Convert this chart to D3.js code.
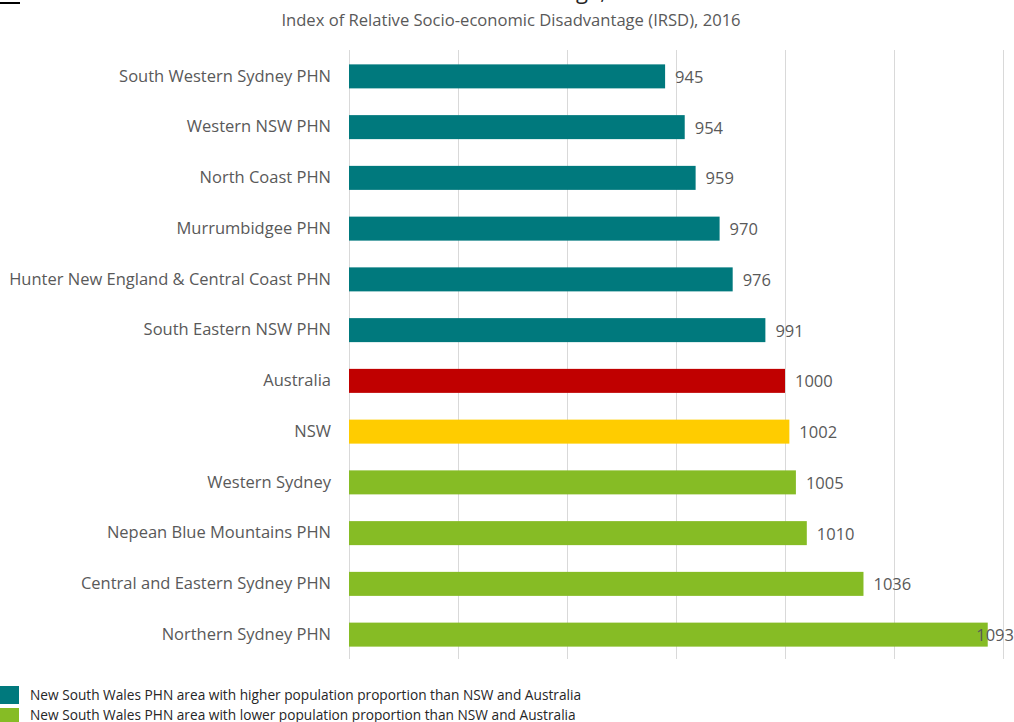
<!DOCTYPE html>
<html>
<head>
<meta charset="utf-8">
<script src="https://cdn.jsdelivr.net/npm/d3@7"></script>
<style>
  html, body { margin: 0; padding: 0; background: #fff; }
  svg { display: block; font-family: "Open Sans", "Noto Sans", sans-serif; }
</style>
</head>
<body>
<svg id="chart" width="1014" height="722"></svg>
<script>
// IRSD score by area, 2016
const categories = [
  "South Western Sydney PHN",
  "Western NSW PHN",
  "North Coast PHN",
  "Murrumbidgee PHN",
  "Hunter New England & Central Coast PHN",
  "South Eastern NSW PHN",
  "Australia",
  "NSW",
  "Western Sydney",
  "Nepean Blue Mountains PHN",
  "Central and Eastern Sydney PHN",
  "Northern Sydney PHN"
];
const values = [945, 954, 959, 970, 976, 991, 1000, 1002, 1005, 1010, 1036, 1093];
const groups = ["higher", "higher", "higher", "higher", "higher", "higher",
                "australia", "nsw", "lower", "lower", "lower", "lower"];
const gridTicks = [800, 850, 900, 950, 1000, 1050, 1100];
const legendLabels = [
  "New South Wales PHN area with higher population proportion than NSW and Australia",
  "New South Wales PHN area with lower population proportion than NSW and Australia"
];
const legendGroups = ["higher", "lower"];

const colour = d3.scaleOrdinal()
  .domain(["higher", "australia", "nsw", "lower"])
  .range(["#00797D", "#C00000", "#FFCC00", "#86BC25"]);

const svg = d3.select("#chart");
const W = 1014;

const x = d3.scaleLinear().domain([800, 1100]).range([349, 1003]);
const y = d3.scaleBand().domain(categories).range([51, 660]).paddingInner(0.527).paddingOuter(0.2635);

// Title (runs off the top edge)
svg.append("text")
  .attr("x", 606).attr("y", -1)
  .attr("text-anchor", "end")
  .attr("font-size", 22)
  .attr("fill", "#262626")
  .text("Relative socio-economic disadvantage,");

svg.append("line")
  .attr("x1", 0).attr("x2", 20).attr("y1", 3).attr("y2", 3)
  .attr("stroke", "#000").attr("stroke-width", 2);

svg.append("text")
  .attr("x", 511).attr("y", 26)
  .attr("text-anchor", "middle")
  .attr("font-size", 16.6)
  .attr("fill", "#595959")
  .text("Index of Relative Socio-economic Disadvantage (IRSD), 2016");

// Vertical gridlines
svg.append("g")
  .attr("transform", "translate(0,50)")
  .call(d3.axisTop(x).tickValues(gridTicks).tickSize(-609).tickFormat(""))
  .call(g => g.select(".domain").remove())
  .call(g => g.selectAll(".tick line").attr("stroke", "#d9d9d9").attr("stroke-width", 1));

// Bars
svg.append("g").selectAll("rect")
  .data(categories)
  .join("rect")
  .attr("x", x(800))
  .attr("y", d => y(d))
  .attr("width", (d, i) => x(values[i]) - x(800))
  .attr("height", y.bandwidth())
  .attr("fill", (d, i) => colour(groups[i]));

// Category labels
svg.append("g")
  .call(d3.axisLeft(y).tickSize(0).tickPadding(0))
  .attr("transform", "translate(331,0)")
  .call(g => g.select(".domain").remove())
  .call(g => g.selectAll("text")
    .attr("font-size", 16.5)
    .attr("font-family", "\"Open Sans\", sans-serif")
    .attr("fill", "#595959"));

// Value labels
const vl = svg.append("g").selectAll("text")
  .data(categories)
  .join("text")
  .attr("y", d => y(d) + y.bandwidth() / 2)
  .attr("dy", "0.4em")
  .attr("font-size", 16.5)
  .attr("fill", "#595959")
  .text((d, i) => values[i]);
vl.each(function(d, i) {
  const w = this.getComputedTextLength();
  const px = Math.min(x(values[i]) + 10, W - w);
  d3.select(this).attr("x", px);
});

// Legend
const leg = svg.append("g");
legendLabels.forEach((t, i) => {
  leg.append("rect")
    .attr("x", 0).attr("y", 686 + i * 22)
    .attr("width", 19).attr("height", 18)
    .attr("fill", colour(legendGroups[i]));
  leg.append("text")
    .attr("x", 30).attr("y", 700 + i * 20)
    .attr("font-size", 13.7)
    .attr("fill", "#262626")
    .text(t);
});
</script>
</body>
</html>
